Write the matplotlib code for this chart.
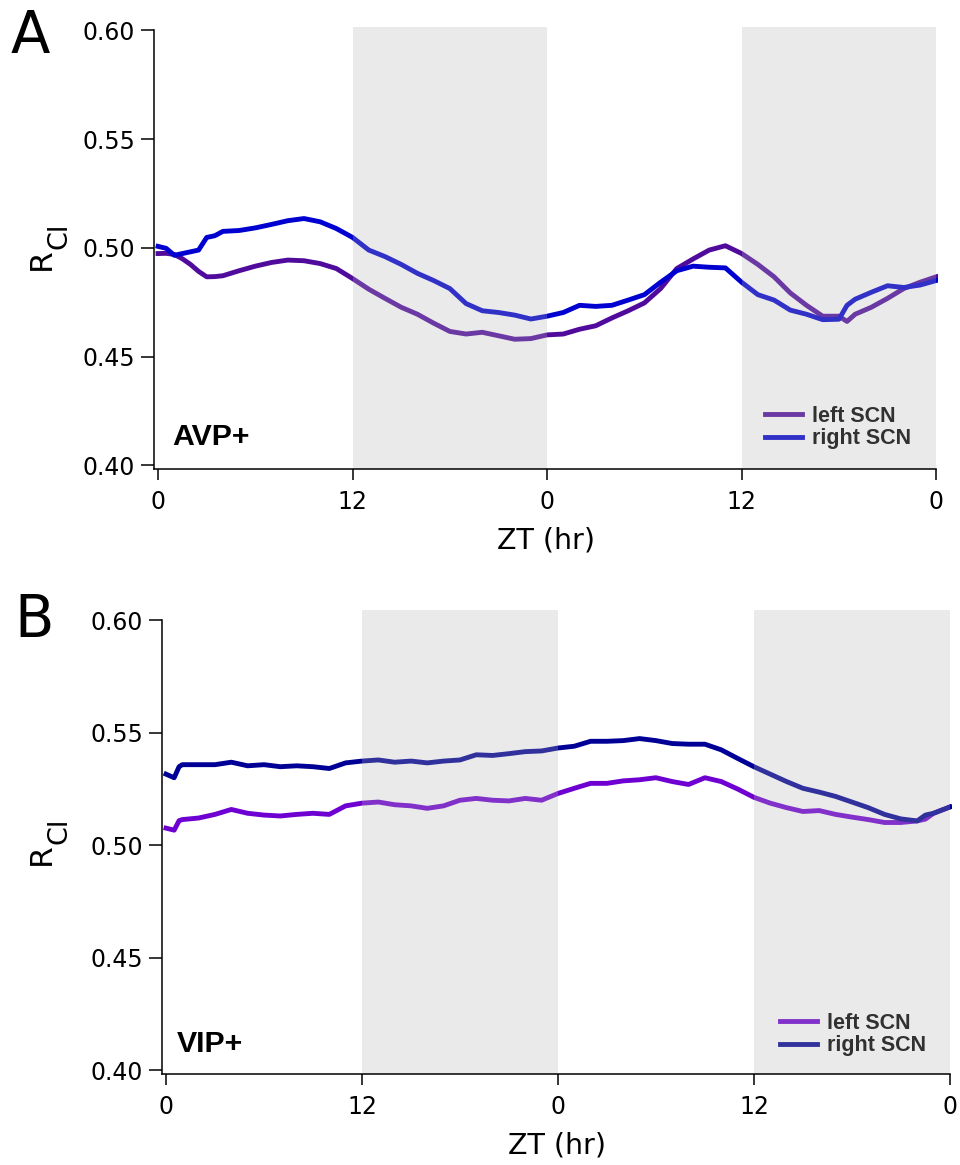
import matplotlib
matplotlib.use("Agg")
import matplotlib.pyplot as plt

# panel A (AVP+) - hours since start, R_Cl values
hours_a = [0, 0.5, 1, 1.5, 2, 2.5, 3, 3.5, 4, 5, 6, 7, 8, 9, 10, 11, 12, 13, 14, 15, 16, 17, 18, 19,
           20, 21, 22, 23, 24, 25, 26, 27, 28, 29, 30, 31, 32, 33, 34, 35, 36, 37, 38, 39, 40, 41,
           42, 42.5, 43, 44, 45, 46, 47, 48]
avp_left = [0.4974, 0.4975, 0.4970, 0.4950, 0.4924, 0.4892, 0.4867, 0.4868, 0.4872, 0.4895, 0.4916,
            0.4933, 0.4944, 0.4941, 0.4928, 0.4905, 0.4859, 0.4810, 0.4768, 0.4727, 0.4695, 0.4654,
            0.4616, 0.4604, 0.4612, 0.4596, 0.4580, 0.4583, 0.4600, 0.4604, 0.4626, 0.4642, 0.4678,
            0.4711, 0.4747, 0.4813, 0.4905, 0.4949, 0.4990, 0.5010, 0.4974, 0.4924, 0.4867, 0.4793,
            0.4736, 0.4686, 0.4686, 0.4662, 0.4695, 0.4727, 0.4768, 0.4813, 0.4842, 0.4867]
avp_right = [0.5007, 0.4998, 0.4966, 0.4974, 0.4982, 0.4990, 0.5048, 0.5056, 0.5076, 0.5080, 0.5092,
             0.5108, 0.5125, 0.5135, 0.5120, 0.5089, 0.5048, 0.4990, 0.4960, 0.4924, 0.4883, 0.4850,
             0.4813, 0.4744, 0.4711, 0.4703, 0.4691, 0.4673, 0.4686, 0.4703, 0.4736, 0.4731, 0.4736,
             0.4760, 0.4785, 0.4842, 0.4895, 0.4916, 0.4911, 0.4908, 0.4842, 0.4785, 0.4760, 0.4714,
             0.4695, 0.4670, 0.4672, 0.4736, 0.4764, 0.4796, 0.4826, 0.4818, 0.4829, 0.4850]

# panel B (VIP+)
hours_b = [0, 0.5, 0.8, 1, 2, 3, 4, 5, 6, 7, 8, 9, 10, 11, 12, 13, 14, 15, 16, 17, 18, 19,
           20, 21, 22, 23, 24, 25, 26, 27, 28, 29, 30, 31, 32, 33, 34, 35, 36, 37, 38, 39, 40, 41,
           42, 43, 44, 45, 46, 46.5, 47, 48]
vip_left = [0.5075, 0.5066, 0.5108, 0.5113, 0.5120, 0.5136, 0.5158, 0.5141, 0.5133, 0.5129, 0.5136,
            0.5141, 0.5136, 0.5174, 0.5186, 0.5191, 0.5179, 0.5174, 0.5163, 0.5174, 0.5199, 0.5207,
            0.5199, 0.5196, 0.5207, 0.5199, 0.5229, 0.5252, 0.5274, 0.5274, 0.5285, 0.5290, 0.5299,
            0.5282, 0.5269, 0.5299, 0.5282, 0.5249, 0.5212, 0.5186, 0.5166, 0.5149, 0.5153, 0.5136,
            0.5124, 0.5113, 0.5100, 0.5100, 0.5107, 0.5115, 0.5141, 0.5169]
vip_right = [0.5315, 0.5299, 0.5348, 0.5357, 0.5357, 0.5357, 0.5368, 0.5352, 0.5357, 0.5348, 0.5352,
             0.5348, 0.5340, 0.5365, 0.5373, 0.5378, 0.5368, 0.5373, 0.5365, 0.5373, 0.5378, 0.5401,
             0.5398, 0.5406, 0.5415, 0.5418, 0.5431, 0.5439, 0.5461, 0.5461, 0.5464, 0.5473, 0.5464,
             0.5451, 0.5448, 0.5448, 0.5423, 0.5385, 0.5348, 0.5315, 0.5282, 0.5252, 0.5235, 0.5216,
             0.5191, 0.5166, 0.5136, 0.5116, 0.5107, 0.5133, 0.5141, 0.5169]

x_ticks = [0, 12, 24, 36, 48]
x_labels = ["0", "12", "0", "12", "0"]
y_ticks = [0.40, 0.45, 0.50, 0.55, 0.60]
dark_periods = [(12, 24), (36, 48)]

W, H = 960, 1165
fig = plt.figure(figsize=(W / 100, H / 100), dpi=100)
bold_font = {"family": "Liberation Sans", "weight": "bold"}


def setup_panel(ax, xlim, ylim):
    ax.set_xlim(*xlim)
    ax.set_ylim(*ylim)
    for s in ["top", "right"]:
        ax.spines[s].set_visible(False)
    ax.spines["left"].set_bounds(ylim[0], 0.60)
    ax.spines["bottom"].set_bounds(xlim[0], 48)
    for s in ["left", "bottom"]:
        ax.spines[s].set_linewidth(1.1)
        ax.spines[s].set_zorder(8)
    ax.set_xticks(x_ticks)
    ax.set_xticklabels(x_labels)
    ax.set_yticks(y_ticks)
    ax.set_yticklabels(["%.2f" % v for v in y_ticks])
    ax.tick_params(axis="y", length=9.5, width=1.1, pad=4, labelsize=17)
    ax.tick_params(axis="x", length=8, width=1.1, pad=7, labelsize=17)
    ax.set_xlabel("ZT (hr)", fontsize=20.5, labelpad=9)
    # the grey night bands sit on top of the traces, lightening them
    for a, b in dark_periods:
        ax.axvspan(a, b, color="#b6b6b6", alpha=0.275, lw=0, zorder=6)


def y_label(center_px):
    # R with a large "Cl" subscript, as in the original figure
    fig.text(41 / W, 1 - (center_px + 11) / H, "R", fontsize=22.5, rotation=90,
             ha="center", va="center")
    fig.text(60 / W, 1 - (center_px - 12) / H, "Cl", fontsize=19.5, rotation=90,
             ha="center", va="center")


# ---- panel A ----
ax1 = fig.add_axes([154 / W, 1 - 469 / H, 783.8 / W, 442.2 / H])
setup_panel(ax1, (-0.25, 48.1), (0.39834, 0.60166))
ax1.plot(hours_a, avp_left, color="#500a9c", lw=3.5, label="left SCN", zorder=3)
ax1.plot(hours_a, avp_right, color="#0000d0", lw=3.5, label="right SCN", zorder=4)
ax1.text(0.86, 0.4094, "AVP+", fontsize=21.8, va="baseline", ha="left", fontdict=bold_font)
ax1.legend(loc="center left", bbox_to_anchor=(0.7795, 0.0938), frameon=False,
           prop={"family": "Liberation Sans", "weight": "bold", "size": 15.5},
           handlelength=1.72, handletextpad=0.47, labelspacing=0.05,
           borderpad=0, borderaxespad=0).set_zorder(5)
y_label(248)

# ---- panel B ----
ax2 = fig.add_axes([162 / W, 1 - 1073.7 / H, 789.5 / W, 463.8 / H])
setup_panel(ax2, (-0.245, 48.1), (0.39836, 0.60449))
ax2.plot(hours_b, vip_left, color="#6e00d2", lw=3.5, label="left SCN", zorder=3)
ax2.plot(hours_b, vip_right, color="#000096", lw=3.5, label="right SCN", zorder=4)
ax2.text(0.67, 0.408, "VIP+", fontsize=21.8, va="baseline", ha="left", fontdict=bold_font)
ax2.legend(loc="center left", bbox_to_anchor=(0.7828, 0.0845), frameon=False,
           prop={"family": "Liberation Sans", "weight": "bold", "size": 15.5},
           handlelength=1.72, handletextpad=0.47, labelspacing=0.05,
           borderpad=0, borderaxespad=0).set_zorder(5)
y_label(843)

fig.text(11 / W, 1 - 8 / H, "A", fontsize=41.5, va="top", ha="left")
fig.text(14 / W, 1 - 592 / H, "B", fontsize=41.5, va="top", ha="left")

fig.savefig("out.png", dpi=100)
